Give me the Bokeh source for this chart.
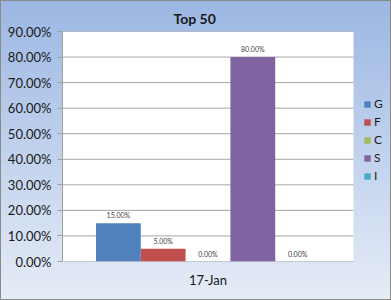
from bokeh.plotting import figure
from bokeh.models import (ColumnDataSource, NumeralTickFormatter, Legend, LegendItem, Range1d,
                          FixedTicker, BoxAnnotation)
from bokeh.core.properties import value
from bokeh.embed import file_html
from bokeh.resources import INLINE

period = ["17-Jan"]
series = ["G", "F", "C", "S", "I"]
shares = [0.15, 0.05, 0.0, 0.80, 0.0]
colors = ["#4f81bd", "#c0504d", "#9bbb59", "#8064a2", "#4bacc6"]
y_ticks = [0.0, 0.1, 0.2, 0.3, 0.4, 0.5, 0.6, 0.7, 0.8, 0.9]

FONT = "Lato"
n_cat = len(period)
centers = [i + 0.5 for i in range(n_cat)]
area_px = 291.0       # width of the white plot area
frame_px = 329.0      # frame runs on to the right edge to host the legend
y_top = y_ticks[-1]

p = figure(width=391, height=300, x_range=Range1d(0, n_cat * frame_px / area_px),
           y_range=Range1d(0, y_top), output_backend="svg", toolbar_location=None,
           min_border_left=62, min_border_right=0, min_border_top=31, min_border_bottom=39,
           title="Top 50")
p.styles = {"background": "linear-gradient(to bottom, #9cb7e3 0%, #c4d4ee 55%, #e6ecf7 100%)",
            "outline": "1px solid #8a8a8a", "outline-offset": "-1px"}
p.border_fill_color = None
p.background_fill_color = None
p.outline_line_color = None

# white plot area
p.add_layout(BoxAnnotation(left=0, right=n_cat, bottom=0, top=y_top, fill_color="white",
                           fill_alpha=1, line_color=None, level="underlay"))

p.title.text_font = FONT
p.title.text_font_size = "14px"
p.title.text_font_style = "bold"
p.title.align = "left"
p.title.offset = 111
p.title.text_color = "#1a1a1a"

# horizontal gridlines limited to the plot area
p.segment(x0=[0] * len(y_ticks), x1=[n_cat] * len(y_ticks), y0=y_ticks, y1=y_ticks,
          line_color="#a6a6a6", line_width=1)

bw = 0.154
items = []
for i, (s, v, c) in enumerate(zip(series, shares, colors)):
    off = (i - 2) * bw
    src = ColumnDataSource(dict(x=[cx + off for cx in centers], y=[v], lab=[f"{v*100:.2f}%"]))
    r = p.vbar(x="x", top="y", width=bw, source=src, fill_color=c, line_color=None)
    p.text(x="x", y="y", text="lab", source=src,
           text_font=value(FONT), text_font_size="7px", text_color="#404040",
           text_align="center", text_baseline="bottom", y_offset=-4)
    items.append(LegendItem(label=s, renderers=[r]))

legend = Legend(items=items, location=(301, 78), border_line_color=None,
                background_fill_alpha=0, label_text_font=FONT, label_text_font_size="12px",
                label_text_color="#1a1a1a", glyph_width=8, glyph_height=8,
                spacing=3, padding=0, margin=0, label_standoff=3, label_height=12)
p.add_layout(legend)

p.yaxis.ticker = FixedTicker(ticks=y_ticks)
p.yaxis.formatter = NumeralTickFormatter(format="0.00%")
p.yaxis.major_label_text_font = FONT
p.yaxis.major_label_text_font_size = "13px"
p.yaxis.major_label_text_color = "#1a1a1a"
p.yaxis.axis_line_color = "#a0a0a0"
p.yaxis.major_tick_line_color = "#a0a0a0"
p.yaxis.major_tick_in = 0
p.yaxis.major_tick_out = 5
p.yaxis.minor_tick_line_color = None
p.yaxis.major_label_standoff = 6

p.xaxis.ticker = FixedTicker(ticks=centers)
p.xaxis.major_label_overrides = {cx: lab for cx, lab in zip(centers, period)}
p.xaxis.major_label_text_font = FONT
p.xaxis.major_label_text_font_size = "13px"
p.xaxis.major_label_text_color = "#1a1a1a"
p.xaxis.axis_line_color = None
p.xaxis.major_tick_line_color = None
p.xaxis.minor_tick_line_color = None
p.xaxis.major_label_standoff = 4

p.xgrid.grid_line_color = None
p.ygrid.grid_line_color = None

open("out.html", "w").write(file_html(p, INLINE))
